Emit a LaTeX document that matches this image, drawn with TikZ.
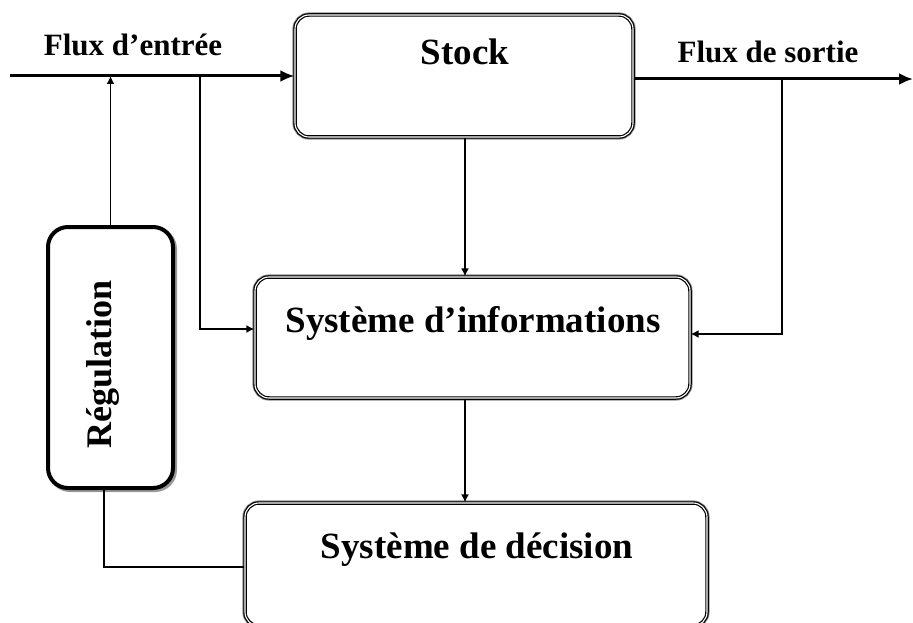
\documentclass[tikz,border=0pt]{standalone}
\usepackage{fontspec}
\setmainfont{Liberation Serif}
\usetikzlibrary{arrows.meta,calc}

\tikzset{
  dbox/.style={rectangle, rounded corners=14pt, draw=black, line width=1.2pt,
    double=white, double distance=1.1pt,
    preaction={draw=black!45, line width=5.2pt},
    inner sep=0pt, fill=white},
  regbox/.style={rectangle, rounded corners=20pt, draw=black, line width=4pt,
    fill=white, inner sep=0pt,
    preaction={draw=black!40, line width=4pt, transform canvas={shift={(2pt,-2pt)}}}},
  title/.style={font=\bfseries\fontsize{37}{40}\selectfont, inner sep=0pt},
  flowlbl/.style={font=\bfseries\fontsize{31}{33}\selectfont, inner sep=0pt},
  flow/.style={line width=3pt, -{Latex[length=14pt,width=12pt]}},
  link/.style={line width=1.8pt, -{Latex[length=8pt,width=8pt]}},
  plain/.style={line width=1.8pt}
}

\begin{document}
\begin{tikzpicture}[x=1pt,y=-1pt]
\useasboundingbox (0,0) rectangle (913,623);

% boxes
\node[dbox, minimum width=338pt, minimum height=122pt] (stock) at (464,76) {};
\node[dbox, minimum width=435pt, minimum height=121pt] (si) at (472.5,337.5) {};
\node[dbox, minimum width=462pt, minimum height=123pt] (dec) at (476,564.5) {};
\node[regbox, minimum width=125pt, minimum height=261pt] (reg) at (110.5,357.5) {};

% box titles
\node[title] (stocktxt) at (465,52) {Stock};
\node[title] (sitxt) at (473,323) {Système d’informations};
\node[title] (dectxt) at (477,550) {Système de décision};
\node[title, font=\bfseries\fontsize{36}{38}\selectfont, rotate=90] (regtxt) at (103,364) {Régulation};

% flow labels
\node[flowlbl] (fin) at (133,45) {Flux d’entrée};
\node[flowlbl] (fout) at (768,52) {Flux de sortie};

% flow endpoints and branch points
\coordinate (inA) at (10,76);
\coordinate (outB) at (913,79);
\coordinate (brIn) at (200,76);
\coordinate (brOut) at (782,79);

% main flows
\draw[flow] (inA) -- (stock.west);
\draw[flow] (stock.east |- outB) -- (outB);

% regulation acting on the input flow
\draw[link] (reg.north) -- (reg.north |- inA);

% information links
\draw[link] (brIn) |- ([yshift=8.5pt]si.west);
\draw[link] (brOut) |- ([yshift=3.5pt]si.east);
\draw[link] (stock.south -| stocktxt) -- (stocktxt |- si.north);
\draw[link] (si.south -| stocktxt) -- (stocktxt |- dec.north);

% decision back to regulation
\draw[plain] ([xshift=-6.5pt]reg.south) |- ([yshift=-2.5pt]dec.west);
\end{tikzpicture}
\end{document}
